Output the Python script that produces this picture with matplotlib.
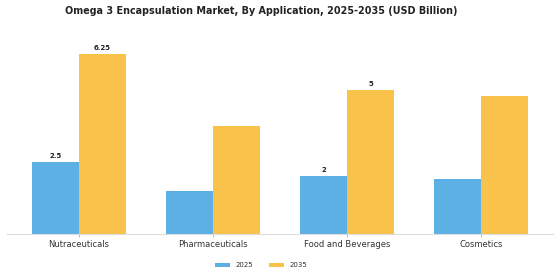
import numpy as np
import matplotlib.pyplot as plt

# Data
categories = ['Nutraceuticals', 'Pharmaceuticals', 'Food and Beverages', 'Cosmetics']
values_2025 = [2.5, 1.5, 2.0, 1.9]
values_2035 = [6.25, 3.75, 5.0, 4.8]
labels_2025 = ['2.5', None, '2', None]
labels_2035 = ['6.25', None, '5', None]

fig = plt.figure(figsize=(5.6, 2.8), dpi=100)
ax = fig.add_axes([0.0125, 0.164, 0.975, 0.675])

x = np.arange(len(categories))
w = 0.35
bars1 = ax.bar(x - w / 2, values_2025, w, color='#5DB0E4', label='2025')
bars2 = ax.bar(x + w / 2, values_2035, w, color='#F8C24B', label='2035')

# value labels (only some bars are labelled in the original)
for bars, labs in ((bars1, labels_2025), (bars2, labels_2035)):
    for b, lab in zip(bars, labs):
        if lab:
            ax.text(b.get_x() + b.get_width() / 2, b.get_height() + 0.12, lab,
                    ha='center', va='bottom', fontsize=5, fontweight='bold', color='#222222')

ax.set_xticks(x)
ax.set_xticklabels(categories, fontsize=6, color='#333333')
ax.tick_params(axis='x', length=2, width=0.5, color='#999999', pad=2)
ax.set_yticks([])
for s in ['top', 'right', 'left']:
    ax.spines[s].set_visible(False)
ax.spines['bottom'].set_color('#dddddd')
ax.spines['bottom'].set_linewidth(0.8)

fig.suptitle('Omega 3 Encapsulation Market, By Application, 2025-2035 (USD Billion)',
             fontsize=6.9, fontweight='bold', color='#222222', x=0.466, y=0.977)

fig.legend(loc='center', bbox_to_anchor=(0.466, 0.053), ncol=2, frameon=False,
           fontsize=5, handlelength=2.2, handleheight=0.6, handletextpad=0.8,
           columnspacing=2.2, labelcolor='#333333')

plt.savefig('out.png', dpi=100)
